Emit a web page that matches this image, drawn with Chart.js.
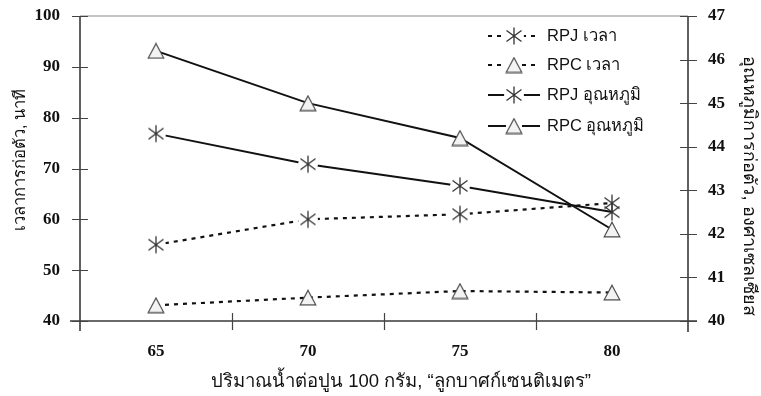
<!DOCTYPE html>
<html>
<head>
<meta charset="utf-8">
<script src="https://cdn.jsdelivr.net/npm/chart.js@4/dist/chart.umd.min.js"></script>
<style>
  html, body { margin: 0; padding: 0; background: #fff; }
  #wrap { width: 761px; height: 396px; position: relative; }
</style>
</head>
<body>
<div id="wrap"><canvas id="chart"></canvas></div>
<script>
// Water content per 100 g of cement (cm³)
const categories = ['65', '70', '75', '80'];

// Setting time, minutes (left axis)
const rpjTime = [55, 60, 61, 63.2];
const rpcTime = [43.1, 44.6, 45.9, 45.6];

// Setting temperature, °C (right axis)
const rpjTemp = [44.3, 43.6, 43.1, 42.5];
const rpcTemp = [46.2, 45.0, 44.2, 42.1];

const seriesLabels = ['RPJ เวลา', 'RPC เวลา', 'RPJ อุณหภูมิ', 'RPC อุณหภูมิ'];

const leftRange = { min: 40, max: 100, step: 10 };
const rightRange = { min: 40, max: 47, step: 1 };

const xTitle = 'ปริมาณน้ำต่อปูน 100 กรัม, “ลูกบาศก์เซนติเมตร”';
const leftTitle = 'เวลาการก่อตัว, นาที';
const rightTitle = 'อุณหภูมิการก่อตัว, องศาเซลเซียส';

const thaiFont = "'Liberation Sans', 'Noto Sans', 'DejaVu Sans', sans-serif";
const numFont = "'Liberation Serif', 'DejaVu Serif', serif";

// --- marker sprites ---
// asterisk; with `knock` a white disc behind it opens a gap in the line
function makeAsterisk(knock) {
  const c = document.createElement('canvas');
  c.width = 22; c.height = 22;
  const g = c.getContext('2d');
  if (knock) {
    g.fillStyle = '#fff';
    g.beginPath(); g.arc(11, 11, 10, 0, Math.PI * 2); g.fill();
  }
  g.strokeStyle = '#333';
  g.lineWidth = 1.3;
  g.beginPath();
  g.moveTo(11, 2.5); g.lineTo(11, 19.5);
  g.moveTo(3.5, 5.5); g.lineTo(18.5, 16.5);
  g.moveTo(3.5, 16.5); g.lineTo(18.5, 5.5);
  g.stroke();
  return c;
}
function makeTriangle() {
  const c = document.createElement('canvas');
  c.width = 18; c.height = 17;
  const g = c.getContext('2d');
  g.fillStyle = '#f3f3f3';
  g.strokeStyle = '#4a4a4a';
  g.lineWidth = 1.2;
  g.beginPath();
  g.moveTo(9, 1.2); g.lineTo(16.8, 15.8); g.lineTo(1.2, 15.8); g.closePath();
  g.fill(); g.stroke();
  return c;
}
const asterisk = makeAsterisk(true);
const asteriskPlain = makeAsterisk(false);
const triangle = makeTriangle();

const dash = [4, 5];

const datasets = [
  { label: seriesLabels[0], data: rpjTime, yAxisID: 'y', borderDash: dash, borderWidth: 2.2,
    pointStyle: [asterisk, asterisk, asterisk, asteriskPlain], legendMark: asterisk },
  { label: seriesLabels[1], data: rpcTime, yAxisID: 'y', borderDash: dash, borderWidth: 2.2,
    pointStyle: triangle, legendMark: triangle },
  { label: seriesLabels[2], data: rpjTemp, yAxisID: 'y2', borderDash: [], borderWidth: 2,
    pointStyle: [asterisk, asterisk, asterisk, asteriskPlain], legendMark: asterisk },
  { label: seriesLabels[3], data: rpcTemp, yAxisID: 'y2', borderDash: [], borderWidth: 2,
    pointStyle: triangle, legendMark: triangle }
].map(d => Object.assign({
  borderColor: '#111',
  backgroundColor: '#111',
  tension: 0,
  fill: false,
  pointRadius: 8,
  pointHoverRadius: 8
}, d));

// Box frame with ticks that cross the axis lines
const framePlugin = {
  id: 'frame',
  beforeDatasetsDraw(chart) {
    const { ctx, chartArea: a, scales } = chart;
    ctx.save();
    ctx.lineCap = 'butt';
    ctx.strokeStyle = '#8a8a8a';
    ctx.lineWidth = 1.2;
    ctx.beginPath();
    ctx.moveTo(a.left, a.top); ctx.lineTo(a.right, a.top);
    ctx.stroke();

    ctx.strokeStyle = '#3a3a3a';
    ctx.lineWidth = 1.6;
    ctx.beginPath();
    ctx.moveTo(a.left, a.top); ctx.lineTo(a.left, a.bottom + 10);
    ctx.moveTo(a.right, a.top); ctx.lineTo(a.right, a.bottom + 11);
    ctx.moveTo(a.left - 10, a.bottom); ctx.lineTo(a.right + 9, a.bottom);
    ctx.stroke();

    ctx.strokeStyle = '#444';
    ctx.lineWidth = 1.2;
    ctx.beginPath();
    scales.y.ticks.forEach(t => {
      const py = Math.round(scales.y.getPixelForValue(t.value)) + 0.5;
      ctx.moveTo(a.left - 8, py); ctx.lineTo(a.left + 8, py);
    });
    scales.y2.ticks.forEach(t => {
      const py = Math.round(scales.y2.getPixelForValue(t.value)) + 0.5;
      ctx.moveTo(a.right - 8, py); ctx.lineTo(a.right + 9, py);
    });
    const xs = scales.x;
    for (let i = 0; i < categories.length - 1; i++) {
      const px = Math.round((xs.getPixelForTick(i) + xs.getPixelForTick(i + 1)) / 2) + 0.5;
      ctx.moveTo(px, a.bottom - 8); ctx.lineTo(px, a.bottom + 9);
    }
    ctx.stroke();
    ctx.restore();
  }
};

// Legend inside the plot (upper right) and the three axis titles
const textPlugin = {
  id: 'legendAndTitles',
  afterDatasetsDraw(chart) {
    const { ctx } = chart;
    const rows = [36, 65, 95, 126];
    const x0 = 488, x1 = 540, mx = 514, tx = 547, gap = 8;
    ctx.save();
    chart.data.datasets.forEach((ds, i) => {
      const y = rows[i];
      ctx.strokeStyle = '#111';
      ctx.lineWidth = ds.borderWidth;
      ctx.setLineDash(ds.borderDash || []);
      ctx.beginPath();
      ctx.moveTo(x0, y); ctx.lineTo(mx - gap, y);
      ctx.moveTo(mx + gap, y); ctx.lineTo(x1, y);
      ctx.stroke();
      ctx.setLineDash([]);
      const img = ds.legendMark;
      ctx.drawImage(img, mx - img.width / 2, y - img.height / 2);
      ctx.fillStyle = '#111';
      ctx.font = '16.5px ' + thaiFont;
      ctx.textBaseline = 'middle';
      ctx.textAlign = 'left';
      ctx.fillText(ds.label, tx, y);
    });

    ctx.fillStyle = '#111';
    ctx.textAlign = 'center';
    ctx.textBaseline = 'middle';
    // bottom title
    ctx.font = '18.5px ' + thaiFont;
    ctx.fillText(xTitle, 401, 382);
    // left title, reading bottom to top
    ctx.save();
    ctx.translate(20, 160);
    ctx.rotate(-Math.PI / 2);
    ctx.font = '16.5px ' + thaiFont;
    ctx.fillText(leftTitle, 0, 0);
    ctx.restore();
    // right title, reading top to bottom
    ctx.save();
    ctx.translate(749, 186);
    ctx.rotate(Math.PI / 2);
    ctx.font = '18px ' + thaiFont;
    ctx.fillText(rightTitle, 0, 0);
    ctx.restore();
    ctx.restore();
  }
};

function noVerticalPad(s) { s.paddingTop = 0; s.paddingBottom = 0; }

new Chart(document.getElementById('chart'), {
  type: 'line',
  data: { labels: categories, datasets },
  plugins: [framePlugin, textPlugin],
  options: {
    responsive: true,
    maintainAspectRatio: false,
    animation: false,
    layout: { padding: { top: 16, left: 0, right: 0, bottom: 0 } },
    plugins: {
      legend: { display: false },
      tooltip: { enabled: false }
    },
    scales: {
      x: {
        type: 'category',
        offset: true,
        grid: { display: false, drawTicks: false },
        border: { display: false },
        ticks: {
          color: '#111',
          font: { family: numFont, size: 17, weight: 'bold' },
          padding: 20,
          maxRotation: 0
        },
        afterFit(s) { s.height = 75; s.paddingLeft = 0; s.paddingRight = 0; }
      },
      y: {
        position: 'left',
        min: leftRange.min,
        max: leftRange.max,
        grid: { display: false, drawTicks: false },
        border: { display: false },
        ticks: {
          stepSize: leftRange.step,
          color: '#111',
          font: { family: numFont, size: 17, weight: 'bold' },
          padding: 20
        },
        afterFit(s) { s.width = 80; noVerticalPad(s); }
      },
      y2: {
        position: 'right',
        min: rightRange.min,
        max: rightRange.max,
        grid: { display: false, drawTicks: false },
        border: { display: false },
        ticks: {
          stepSize: rightRange.step,
          color: '#111',
          font: { family: numFont, size: 17, weight: 'bold' },
          padding: 20
        },
        afterFit(s) { s.width = 73; noVerticalPad(s); }
      }
    }
  }
});
</script>
</body>
</html>
